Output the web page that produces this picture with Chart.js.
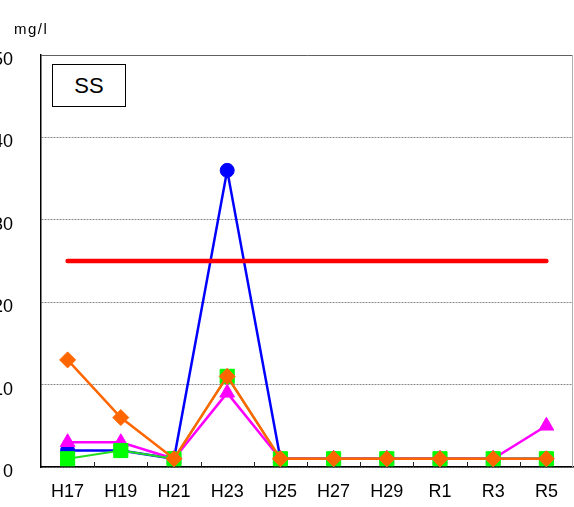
<!DOCTYPE html>
<html>
<head>
<meta charset="utf-8">
<script src="https://cdn.jsdelivr.net/npm/chart.js@4.4.1/dist/chart.umd.min.js"></script>
<style>
  html, body { margin: 0; padding: 0; background: #fff; }
  body { width: 574px; height: 507px; overflow: hidden; position: relative; font-family: "Liberation Sans", Arial, sans-serif; }
  #wrap { position: absolute; left: -20px; top: 0; width: 594px; height: 507px; }
  #unit { position: absolute; left: 14px; top: 21px; font-size: 15px; line-height: 15px; letter-spacing: 1.5px; color: #000; }
  #label { position: absolute; left: 52px; top: 64px; width: 72px; height: 41px; border: 1.5px solid #000;
           font-size: 22px; line-height: 41px; text-align: center; color: #000; background: #fff; z-index: 2; }
</style>
</head>
<body>
<div id="wrap"><canvas id="ssChart"></canvas></div>
<div id="unit">mg/l</div>
<div id="label">SS</div>
<script>
// survey years
const categories = ['H17', 'H19', 'H21', 'H23', 'H25', 'H27', 'H29', 'R1', 'R3', 'R5'];

// SS values (mg/l) per site
const blueSite = [2, 2, 1, 36, 1, 1, 1, 1, 1, 1];
const greenSite = [1, 2, 1, 11, 1, 1, 1, 1, 1, 1];
const magentaSite = [3, 3, 1, 9, 1, 1, 1, 1, 1, 5];
const orangeSite = [13, 6, 1, 11, 1, 1, 1, 1, 1, 1];

// environmental standard
const standard = [25, 25, 25, 25, 25, 25, 25, 25, 25, 25];

const yTicks = [0, 10, 20, 30, 40, 50];

// small inward tick marks on the x axis + light right border
const framePlugin = {
    id: 'frame',
    beforeDatasetsDraw(chart) {
        const ctx = chart.ctx;
        const a = chart.chartArea;
        const x = chart.scales.x;
        const step = x.width / categories.length;
        ctx.save();
        ctx.strokeStyle = '#222';
        ctx.lineWidth = 1;
        for (let i = 1; i < categories.length; i++) {
            const px = Math.round(x.left + i * step) + 0.5;
            ctx.beginPath();
            ctx.moveTo(px, a.bottom);
            ctx.lineTo(px, a.bottom - 5);
            ctx.stroke();
        }
        ctx.strokeStyle = '#b0b0b0';
        ctx.beginPath();
        ctx.moveTo(a.right - 0.5, a.top);
        ctx.lineTo(a.right - 0.5, a.bottom);
        ctx.stroke();
        ctx.restore();
    }
};

const ctx = document.getElementById('ssChart').getContext('2d');

new Chart(ctx, {
    type: 'line',
    data: {
        labels: categories,
        datasets: [
            {
                label: 'standard',
                data: standard,
                borderColor: '#ff0000',
                borderWidth: 4.5,
                borderCapStyle: 'round',
                pointRadius: 0,
                order: 0
            },
            {
                label: 'orange',
                data: orangeSite,
                borderColor: '#ff6600',
                backgroundColor: '#ff6600',
                borderWidth: 2.5,
                pointStyle: 'rectRot',
                pointRadius: 8,
                pointBorderWidth: 1,
                order: 1
            },
            {
                label: 'green',
                data: greenSite,
                borderColor: '#22dd22',
                backgroundColor: '#00ff00',
                pointBorderColor: '#00ff00',
                borderWidth: 2,
                pointStyle: 'rect',
                pointRadius: 10,
                pointBorderWidth: 1,
                order: 2
            },
            {
                label: 'magenta',
                data: magentaSite,
                borderColor: '#ff00ff',
                backgroundColor: '#ff00ff',
                borderWidth: 2.5,
                pointStyle: 'triangle',
                pointRadius: 8.5,
                pointBorderWidth: 1,
                order: 3
            },
            {
                label: 'blue',
                data: blueSite,
                borderColor: '#0000ff',
                backgroundColor: '#0000ff',
                borderWidth: 2.5,
                pointStyle: 'circle',
                pointRadius: 7,
                pointBorderWidth: 1,
                order: 4
            }
        ]
    },
    options: {
        responsive: true,
        maintainAspectRatio: false,
        animation: false,
        devicePixelRatio: 1,
        layout: {
            autoPadding: false,
            padding: { left: 0, right: 1, top: 55, bottom: 0 }
        },
        plugins: {
            legend: { display: false },
            tooltip: { enabled: false }
        },
        elements: {
            line: { tension: 0 }
        },
        scales: {
            x: {
                type: 'category',
                offset: true,
                grid: { display: false, drawTicks: false },
                border: { display: true, color: '#000', width: 1.5 },
                ticks: {
                    color: '#000',
                    font: { family: '"Liberation Sans", Arial, sans-serif', size: 18 },
                    padding: 14,
                    maxRotation: 0,
                    autoSkip: false
                },
                afterFit(scale) {
                    scale.height = 40;
                    scale.paddingLeft = 0;
                    scale.paddingRight = 0;
                }
            },
            y: {
                min: 0,
                max: 50,
                afterBuildTicks(scale) {
                    scale.ticks = yTicks.map(v => ({ value: v }));
                },
                grid: {
                    drawTicks: false,
                    lineWidth: 1,
                    color: c => (c.tick && c.tick.value === 50) ? '#606060' : '#8a8a8a'
                },
                border: {
                    display: true,
                    color: '#000',
                    width: 1.5,
                    dash: c => (c.tick && c.tick.value === 50) ? [] : [2, 1]
                },
                ticks: {
                    color: '#000',
                    font: { family: '"Liberation Sans", Arial, sans-serif', size: 18 },
                    padding: 28,
                    labelOffset: 5
                },
                afterFit(scale) { scale.width = 61; }
            }
        }
    },
    plugins: [framePlugin]
});
</script>
</body>
</html>
